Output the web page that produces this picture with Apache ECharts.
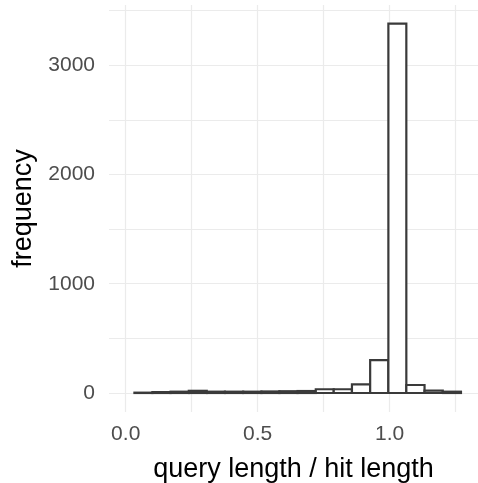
<!DOCTYPE html>
<html>
<head>
<meta charset="utf-8">
<script src="https://cdn.jsdelivr.net/npm/echarts@6/dist/echarts.min.js"></script>
<style>html,body{margin:0;padding:0;background:#fff}#c{width:478px;height:483px}</style>
</head>
<body>
<div id="c"></div>
<script>
// Histogram bin edges
var binEdges = [0.033, 0.101, 0.170, 0.239, 0.307, 0.376, 0.445, 0.514, 0.582, 0.651, 0.720, 0.788, 0.857, 0.926, 0.995, 1.063, 1.132, 1.201, 1.270];
// Counts per bin
var counts = [3, 8, 12, 20, 12, 12, 12, 14, 16, 18, 34, 34, 78, 300, 3380, 73, 22, 12];
// Tick labels
var xTicks = [0, 0.5, 1.0];
var yTicks = [0, 1000, 2000, 3000];
var xGrid = [0, 0.25, 0.5, 0.75, 1.0, 1.25];
var yGrid = [0, 500, 1000, 1500, 2000, 2500, 3000, 3500];

var data = counts.map(function (c, i) { return [binEdges[i], binEdges[i + 1], c]; });

var chart = echarts.init(document.getElementById('c'), null, { renderer: 'canvas' });

var gridLines = [];
xGrid.forEach(function (v) { gridLines.push({ xAxis: v }); });
yGrid.forEach(function (v) { gridLines.push({ yAxis: v }); });

chart.setOption({
  animation: false,
  backgroundColor: '#ffffff',
  grid: { left: 109, right: 0, top: 5, bottom: 71, containLabel: false, outerBoundsMode: 'none' },
  xAxis: {
    type: 'value', min: -0.0633, max: 1.3345,
    name: 'query length / hit length', nameLocation: 'middle', nameGap: 44,
    nameTextStyle: { color: '#000000', fontSize: 27, fontFamily: 'Liberation Sans' },
    axisLine: { show: false }, axisTick: { show: false }, splitLine: { show: false },
    axisLabel: {
      customValues: xTicks, color: '#4d4d4d', fontSize: 21, fontFamily: 'Liberation Sans', margin: 12,
      formatter: function (v) { return v.toFixed(1); }
    }
  },
  yAxis: {
    type: 'value', min: -174, max: 3551,
    name: 'frequency', nameLocation: 'middle', nameGap: 72, nameRotate: 90,
    nameTextStyle: { color: '#000000', fontSize: 27, fontFamily: 'Liberation Sans' },
    axisLine: { show: false }, axisTick: { show: false }, splitLine: { show: false },
    axisLabel: {
      customValues: yTicks, color: '#4d4d4d', fontSize: 21, fontFamily: 'Liberation Sans', margin: 14,
      formatter: function (v) { return String(v); }
    }
  },
  series: [{
    type: 'custom',
    data: data,
    clip: false,
    encode: { x: [0, 1], y: 2 },
    renderItem: function (params, api) {
      var p0 = api.coord([api.value(0), api.value(2)]);
      var p1 = api.coord([api.value(1), 0]);
      return {
        type: 'rect',
        shape: { x: p0[0], y: p0[1], width: p1[0] - p0[0], height: p1[1] - p0[1] },
        style: { fill: '#ffffff', stroke: '#3a3a3a', lineWidth: 2.2 }
      };
    },
    markLine: {
      silent: true, symbol: 'none', label: { show: false },
      lineStyle: { color: '#ebebeb', type: 'solid', width: 1.2 },
      z: 0,
      data: gridLines
    },
    z: 2
  }]
});
</script>
</body>
</html>
